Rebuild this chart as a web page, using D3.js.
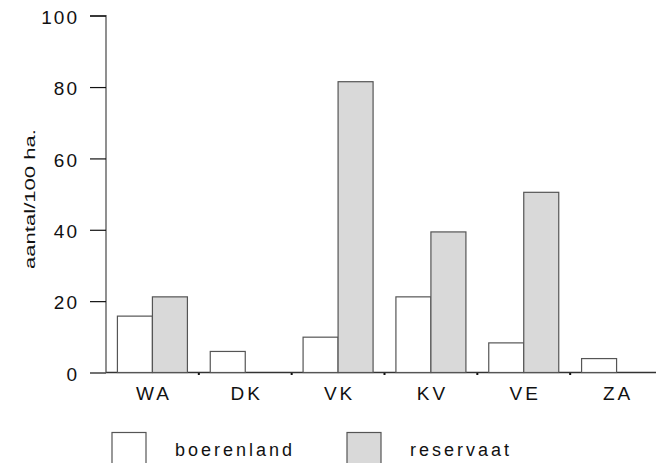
<!DOCTYPE html>
<html>
<head>
<meta charset="utf-8">
<script src="https://cdn.jsdelivr.net/npm/d3@7"></script>
<style>
  html, body { margin: 0; padding: 0; background: #fff; }
  svg { display: block; }
  text { font-family: "Liberation Sans", Arial, sans-serif; fill: #111; }
</style>
</head>
<body>
<svg id="chart" width="656" height="463"></svg>
<script>
// Aantallen per 100 ha per gebied, boerenland vs. reservaat
const gebieden = ["WA", "DK", "VK", "KV", "VE", "ZA"];
const reeksen = ["boerenland", "reservaat"];
const boerenland = [15.8, 5.9, 9.9, 21.2, 8.3, 3.9];
const reservaat = [21.2, 0, 81.5, 39.4, 50.5, 0];
const yTicks = [0, 20, 40, 60, 80, 100];
const yTitel = "aantal/100 ha.";

const kleuren = { boerenland: "#ffffff", reservaat: "#d9d9d9" };

const svg = d3.select("#chart");
const plotLeft = 106, plotRight = 663, plotTop = 15.7, plotBottom = 372.5;

const x = d3.scaleBand().domain(gebieden).range([plotLeft, plotRight]).paddingInner(0).paddingOuter(0);
const xs = d3.scaleBand().domain(reeksen).range([-35, 35]);
const y = d3.scaleLinear().domain([0, 100]).range([plotBottom, plotTop]);

const rows = gebieden.map((g, i) => ({ gebied: g, boerenland: boerenland[i], reservaat: reservaat[i] }));

// x-as: basislijn over de volle breedte met kleine streepjes tussen de gebieden
svg.append("line")
  .attr("x1", plotLeft).attr("x2", 656)
  .attr("y1", plotBottom).attr("y2", plotBottom)
  .attr("stroke", "#333").attr("stroke-width", 1.3);

svg.append("g").selectAll("rect")
  .data(gebieden.slice(1))
  .join("rect")
  .attr("x", d => x(d) - 1)
  .attr("y", plotBottom + 0.5)
  .attr("width", 2).attr("height", 2)
  .attr("fill", "#111");

// staven
const groep = svg.append("g").selectAll("g")
  .data(rows)
  .join("g")
  .attr("transform", d => `translate(${x(d.gebied) + x.bandwidth() / 2},0)`);

groep.selectAll("rect")
  .data(d => reeksen.map(k => ({ key: k, value: d[k] })).filter(v => v.value > 0))
  .join("rect")
  .attr("x", d => xs(d.key))
  .attr("y", d => y(d.value))
  .attr("width", xs.bandwidth())
  .attr("height", d => y(0) - y(d.value))
  .attr("fill", d => kleuren[d.key])
  .attr("stroke", "#555")
  .attr("stroke-width", 1.2);

// labels onder de x-as
svg.append("g").selectAll("text")
  .data(gebieden)
  .join("text")
  .attr("x", d => x(d) + x.bandwidth() / 2 + 1.5)
  .attr("y", 400)
  .attr("text-anchor", "middle")
  .attr("font-size", 19)
  .attr("letter-spacing", 3)
  .text(d => d);

// y-as
const yAxis = d3.axisLeft(y).tickValues(yTicks).tickSize(16).tickPadding(11);
const ya = svg.append("g").attr("transform", `translate(${plotLeft},0)`).call(yAxis);
ya.select(".domain").attr("stroke", "#555").attr("stroke-width", 1.3)
  .attr("d", `M-16,${plotTop}H0V${plotBottom}`);
ya.selectAll(".tick line").attr("stroke", "#111").attr("stroke-width", 1.2);
ya.selectAll(".tick text")
  .attr("font-size", 19)
  .attr("letter-spacing", 2)
  .attr("dy", "0.4em")
  .attr("fill", "#111")
  .style("font-family", "Liberation Sans, Arial, sans-serif");

// as-titel
svg.append("text")
  .attr("transform", `translate(35,199) rotate(-90)`)
  .attr("text-anchor", "middle")
  .attr("font-size", 15)
  .attr("textLength", 140)
  .attr("lengthAdjust", "spacingAndGlyphs")
  .text(yTitel);

// legenda
const legX = [112, 347];
const leg = svg.append("g").selectAll("g")
  .data(reeksen)
  .join("g")
  .attr("transform", (d, i) => `translate(${legX[i]},432.5)`);
leg.append("rect")
  .attr("width", 34).attr("height", 34)
  .attr("fill", d => kleuren[d])
  .attr("stroke", "#555").attr("stroke-width", 1.2);
leg.append("text")
  .attr("x", 63).attr("y", 23.5)
  .attr("font-size", 18)
  .attr("letter-spacing", 3)
  .text(d => d);
</script>
</body>
</html>
